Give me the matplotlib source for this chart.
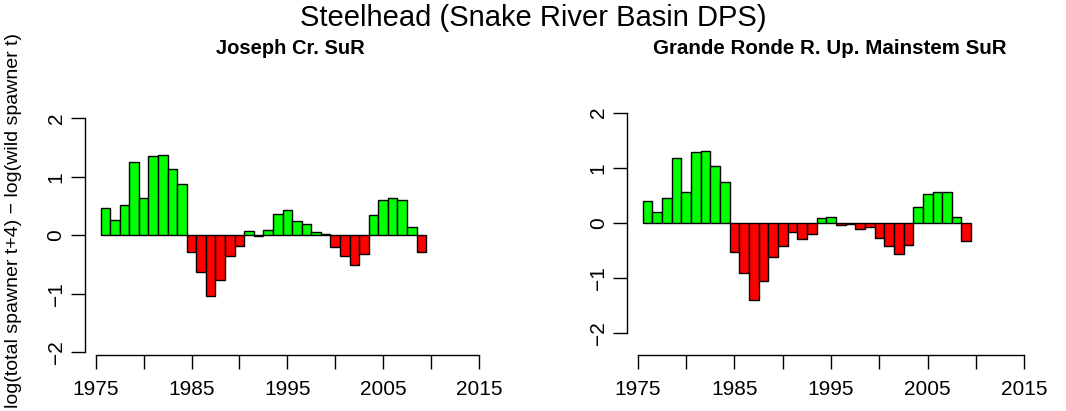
import numpy as np
import matplotlib.pyplot as plt

plt.rcParams['font.family'] = ['Liberation Sans', 'DejaVu Sans']

years = list(range(1976, 2010))

# log(total spawner t+4) - log(wild spawner t)
joseph = [0.46, 0.27, 0.52, 1.25, 0.63, 1.36, 1.38, 1.13, 0.88,
          -0.28, -0.63, -1.04, -0.76, -0.35, -0.18, 0.07, -0.01, 0.085,
          0.37, 0.43, 0.24, 0.19, 0.05, 0.02, -0.205, -0.35, -0.50, -0.32,
          0.34, 0.60, 0.64, 0.60, 0.15, -0.285]
grande_ronde = [0.40, 0.205, 0.45, 1.18, 0.56, 1.29, 1.30, 1.04, 0.75,
                -0.53, -0.91, -1.40, -1.05, -0.62, -0.42, -0.16, -0.29, -0.19,
                0.10, 0.115, -0.04, -0.01, -0.10, -0.07, -0.28, -0.42, -0.57, -0.39,
                0.29, 0.53, 0.57, 0.555, 0.115, -0.32]

W, H = 1066, 411
fig = plt.figure(figsize=(W / 100, H / 100), dpi=100)


def r_style_panel(rect_px, xlim, ylim, values):
    left, top, right, bottom = rect_px
    ax = fig.add_axes([left / W, 1 - bottom / H, (right - left) / W, (bottom - top) / H])
    vals = np.array(values)
    colors = np.where(vals >= 0, '#00FF00', '#FF0000')
    ax.bar(years, vals, width=1.0, color=colors, edgecolor='black', linewidth=1.0)
    ax.set_xlim(*xlim)
    ax.set_ylim(*ylim)
    ax.set_xticks([1975, 1980, 1985, 1990, 1995, 2000, 2005, 2010, 2015])
    ax.set_xticklabels(['1975', '', '1985', '', '1995', '', '2005', '', '2015'])
    ax.set_yticks([-2, -1, 0, 1, 2])
    ax.set_yticklabels(['\u22122', '\u22121', '0', '1', '2'], rotation=90, va='center')
    for s in ['top', 'right']:
        ax.spines[s].set_visible(False)
    ax.spines['left'].set_bounds(-2, 2)
    ax.spines['bottom'].set_bounds(1975, 2015)
    for s in ['left', 'bottom']:
        ax.spines[s].set_linewidth(1.0)
    ax.tick_params(length=10, width=1.0, labelsize=15, pad=4)
    ax.tick_params(axis='x', pad=8)
    return ax


ax1 = r_style_panel((85, 110, 500, 355), (1973.88, 2017.2), (-2.046, 2.142), joseph)
ax2 = r_style_panel((627.3, 105, 1045, 355), (1973.92, 2017.14), (-2.393, 2.14), grande_ronde)

fig.text(533 / W, 1 - 18 / H, 'Steelhead (Snake River Basin DPS)', fontsize=21,
         ha='center', va='center')
fig.text(290 / W, 1 - 48 / H, 'Joseph Cr. SuR', fontsize=14.5, fontweight='bold',
         ha='center', va='center')
fig.text(830 / W, 1 - 48 / H, 'Grande Ronde R. Up. Mainstem SuR', fontsize=14.8,
         fontweight='bold', ha='center', va='center')
fig.text(14 / W, 1 - 221 / H, 'log(total spawner t+4) \u2212 log(wild spawner t)',
         fontsize=14, rotation=90, ha='center', va='center')

fig.savefig('out.png', dpi=100)
